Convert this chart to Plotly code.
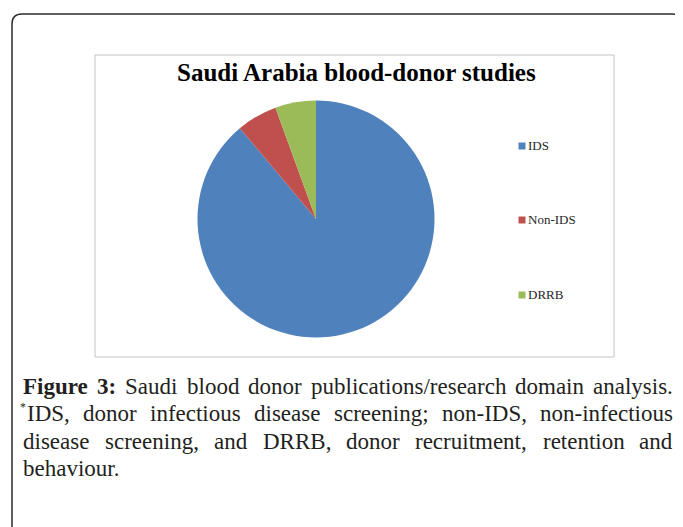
import plotly.graph_objects as go

# ---- data ----
categories = ["IDS", "Non-IDS", "DRRB"]
values = [16, 1, 1]
colors = ["#4F81BD", "#C0504D", "#9BBB59"]
title_text = "Saudi Arabia blood-donor studies"
caption_lines = [
    [("Figure", True), ("3:", True), ("Saudi", False), ("blood", False), ("donor", False),
     ("publications/research", False), ("domain", False), ("analysis.", False)],
    [("IDS,", False), ("donor", False), ("infectious", False), ("disease", False),
     ("screening;", False), ("non-IDS,", False), ("non-infectious", False)],
    [("disease", False), ("screening,", False), ("and", False), ("DRRB,", False),
     ("donor", False), ("recruitment,", False), ("retention", False), ("and", False)],
    [("behaviour.", False)],
]

W, H = 683, 527
OFF = 8  # page body margin
FW, FH = W - OFF, H - OFF

def px(x):
    return (x - OFF) / FW

def py(y):
    return 1 - (y - OFF) / FH

# Times / Liberation Serif advance widths (1/1000 em)
REG = {' ': 250, ',': 250, '-': 333, '.': 250, '/': 278, ':': 278, ';': 278, '*': 500,
       'A': 722, 'B': 667, 'C': 667, 'D': 722, 'E': 611, 'F': 556, 'G': 722, 'H': 722,
       'I': 333, 'N': 722, 'R': 667, 'S': 556,
       'a': 444, 'b': 500, 'c': 444, 'd': 500, 'e': 444, 'f': 333, 'g': 500, 'h': 500,
       'i': 278, 'j': 278, 'k': 500, 'l': 278, 'm': 778, 'n': 500, 'o': 500, 'p': 500,
       'q': 500, 'r': 333, 's': 389, 't': 278, 'u': 500, 'v': 500, 'w': 722, 'x': 500,
       'y': 500, 'z': 444}
BOLD = {' ': 250, ':': 333, '3': 500, 'F': 611, 'i': 278, 'g': 500, 'u': 556, 'r': 444, 'e': 444}

def tw(s, bold, fs):
    t = BOLD if bold else REG
    return sum(t.get(c, 500) for c in s) * fs / 1000.0

fig = go.Figure()
fig.add_trace(go.Pie(
    labels=categories, values=values, sort=False, direction="clockwise", rotation=0,
    marker=dict(colors=colors, line=dict(width=0)),
    textinfo="none", hoverinfo="label+value", showlegend=False,
    domain=dict(x=[px(316 - 118.5), px(316 + 118.5)], y=[py(219 + 118.5), py(219 - 118.5)]),
))

shapes = []
# outer rounded frame
r = 10
L, T, R = 12, 14, 682
path = (f"M {px(L)},{py(540)} L {px(L)},{py(T + r)} Q {px(L)},{py(T)} {px(L + r)},{py(T)} "
        f"L {px(R - r)},{py(T)} Q {px(R)},{py(T)} {px(R)},{py(T + r)} L {px(R)},{py(540)}")
shapes.append(dict(type="path", xref="paper", yref="paper", path=path,
                   line=dict(color="#2b2b2b", width=1.5)))
# inner chart box
shapes.append(dict(type="rect", xref="paper", yref="paper",
                   x0=px(95), x1=px(614), y0=py(357), y1=py(55),
                   line=dict(color="#c4c4c4", width=1)))

annotations = []
annotations.append(dict(text="<b>" + title_text + "</b>", x=px(356), y=py(72.5),
                        xref="paper", yref="paper", xanchor="center", yanchor="middle",
                        showarrow=False, font=dict(family="Liberation Serif", size=25, color="#000")))

# manual legend
leg_y = [146, 220, 295]
for cat, col, yy in zip(categories, colors, leg_y):
    shapes.append(dict(type="rect", xref="paper", yref="paper",
                       x0=px(518.5), x1=px(525.5), y0=py(yy + 3.5), y1=py(yy - 3.5),
                       fillcolor=col, line=dict(width=0)))
    annotations.append(dict(text=cat, x=px(527.5), y=py(yy - 0.5), xref="paper", yref="paper",
                            xanchor="left", yanchor="middle", showarrow=False,
                            borderpad=0, borderwidth=0,
                            font=dict(family="Liberation Serif", size=13, color="#262626")))

# caption, justified
fs = 23
cap_font = dict(family="Liberation Serif", size=fs, color="#231f20")
right = 673
line_y = [386.5, 413.5, 441, 468]
line_left = [23, 26.5, 23, 23]
for i, (words, yy) in enumerate(zip(caption_lines, line_y)):
    x0 = line_left[i]
    justify = i < len(caption_lines) - 1
    widths = [tw(w, b, fs) for w, b in words]
    n = len(words)
    gap = (right - x0 - sum(widths)) / (n - 1) if (justify and n > 1) else fs * 0.25
    x = x0
    for k, ((w, b), wd) in enumerate(zip(words, widths)):
        txt = f"<b>{w}</b>" if b else w
        if justify and k == n - 1 and n > 1:
            ann = dict(x=px(right), xanchor="right")
        else:
            ann = dict(x=px(x), xanchor="left")
        ann.update(text=txt, y=py(yy), xref="paper", yref="paper", yanchor="middle",
                   showarrow=False, borderpad=0, borderwidth=0, font=cap_font)
        annotations.append(ann)
        x += wd + gap

# superscript asterisk
annotations.append(dict(text="*", x=px(26.3), y=py(406.5), xref="paper", yref="paper",
                        xanchor="right", yanchor="middle", showarrow=False,
                        borderpad=0, borderwidth=0,
                        font=dict(family="Liberation Serif", size=12, color="#231f20")))

fig.update_layout(
    width=FW, height=FH, margin=dict(l=0, r=0, t=0, b=0),
    paper_bgcolor="white", plot_bgcolor="white",
    shapes=shapes, annotations=annotations, showlegend=False,
)

fig.write_html("out.html")
